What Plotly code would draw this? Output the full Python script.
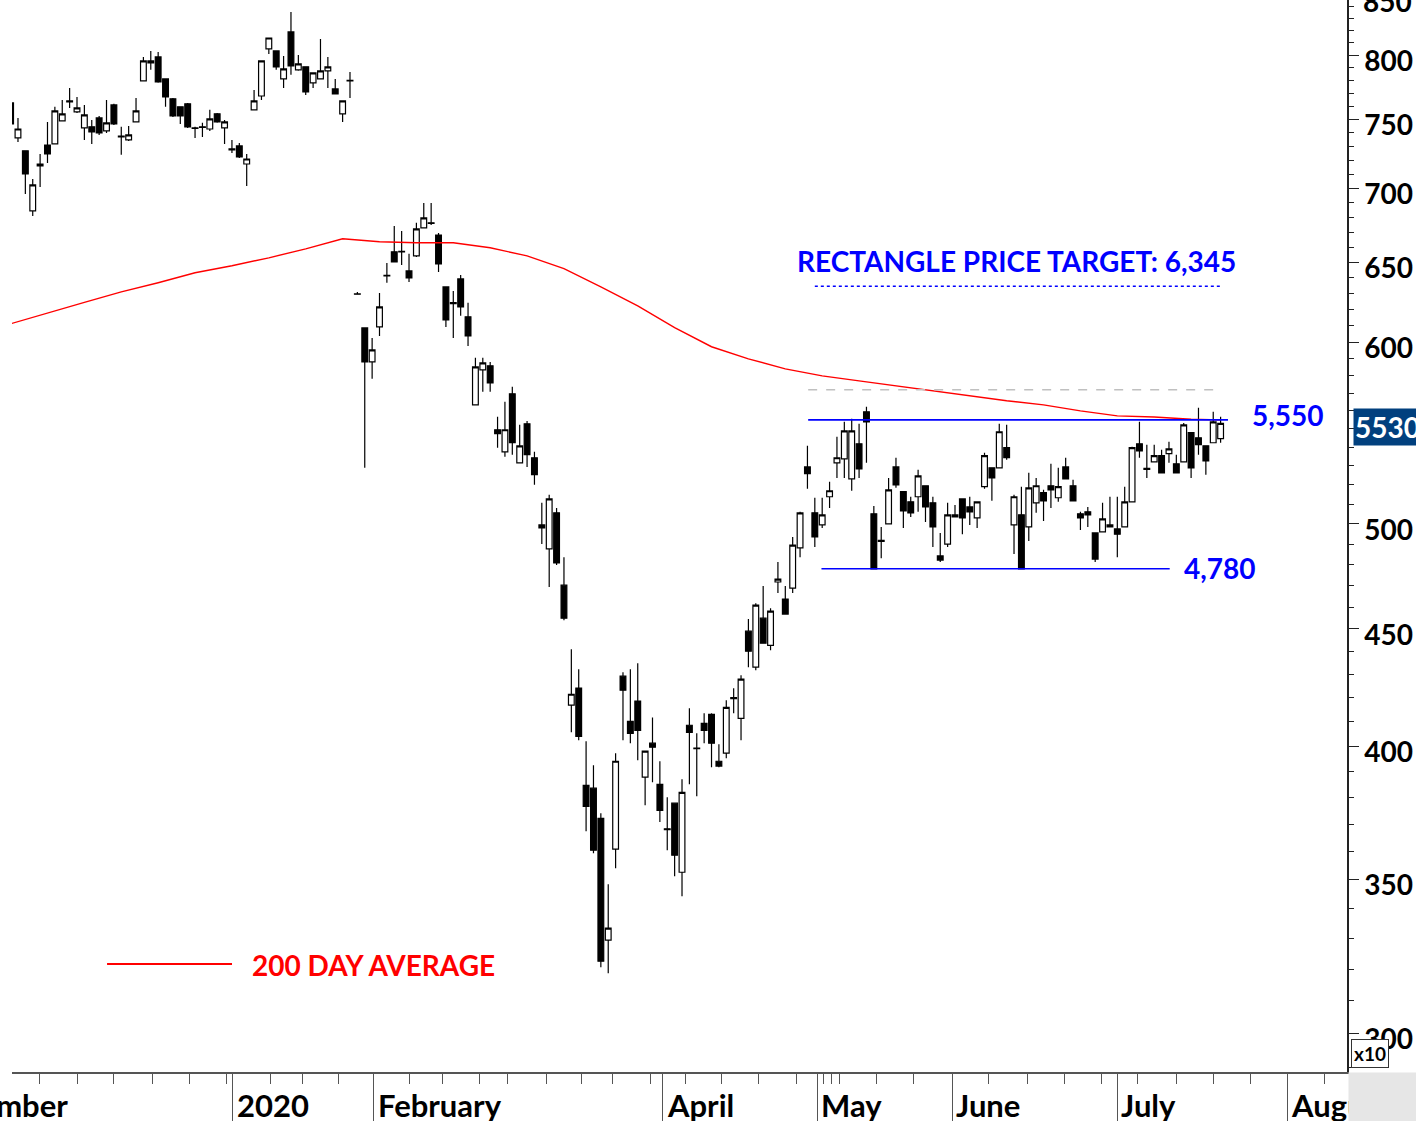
import numpy as np
import plotly.graph_objects as go

# ---------------- DATA (axis units are price / 10, as the "x10" box says) ----------------
opens = [762.6, 736.3, 726.8, 684.3, 717.3, 731.1, 731.9, 749.0, 764.1, 755.8,
         743.7, 744.5, 751.2, 741.5, 761.1, 737.7, 734.8, 748.2, 779.6, 793.8,
         798.6, 781.2, 765.7, 759.6, 761.9, 743.7, 744.5, 742.9, 754.3, 743.7,
         728.2, 730.4, 717.3, 757.3, 767.9, 805.0, 803.4, 781.2, 818.9, 788.3,
         790.7, 778.1, 781.2, 787.5, 773.4, 754.3, 780.0, 629.7, 608.6, 588.2,
         609.2, 641.2, 656.8, 657.1, 644.4, 654.2, 672.8, 676.2, 668.0, 634.1,
         624.2, 639.2, 615.4, 563.4, 583.5, 585.9, 549.5, 537.5, 569.7, 531.6,
         552.8, 534.3, 499.5, 487.6, 505.6, 470.2, 416.9, 424.1, 384.7, 383.6,
         372.2, 329.4, 360.9, 429.2, 410.2, 418.6, 387.9, 401.3, 385.1, 368.3,
         377.9, 352.6, 408.6, 399.3, 409.4, 413.1, 394.1, 397.3, 419.6, 411.4,
         449.0, 433.1, 454.9, 442.7, 471.7, 463.7, 468.8, 488.1, 529.4, 505.6,
         499.5, 513.8, 531.6, 533.7, 523.1, 541.8, 559.5, 505.1, 491.8, 500.0,
         529.4, 516.4, 511.2, 513.8, 519.5, 510.7, 484.2, 490.0, 503.5, 512.7,
         508.6, 503.0, 519.0, 528.9, 528.9, 539.7, 499.5, 504.6, 498.5, 510.7,
         515.9, 519.5, 513.3, 529.4, 519.5, 505.1, 506.1, 495.5, 496.0, 498.5,
         497.5, 498.5, 511.2, 541.8, 528.7, 532.1, 535.4, 536.5, 531.1, 532.1,
         547.9, 545.1, 540.7, 542.4, 544.6]
highs = [762.6, 751.2, 726.8, 706.6, 724.6, 748.2, 759.6, 764.9, 774.1, 767.2,
         761.1, 749.7, 752.7, 764.9, 761.9, 744.5, 745.2, 766.4, 798.6, 803.4,
         802.6, 781.2, 766.4, 759.6, 762.6, 744.5, 747.5, 757.3, 755.0, 749.7,
         734.8, 732.6, 724.6, 772.6, 795.4, 813.9, 803.4, 799.4, 835.4, 800.2,
         790.7, 785.9, 813.1, 798.6, 781.2, 764.1, 786.7, 630.9, 608.6, 602.5,
         630.3, 649.5, 674.1, 670.7, 655.5, 676.2, 689.8, 689.8, 669.4, 634.1,
         631.6, 641.8, 624.2, 590.6, 590.6, 588.2, 556.7, 565.2, 573.7, 552.2,
         554.4, 537.5, 510.7, 514.8, 508.1, 483.6, 440.9, 432.2, 402.1, 392.5,
         374.1, 348.4, 397.3, 430.9, 432.2, 434.8, 398.1, 411.8, 394.1, 380.1,
         377.9, 387.1, 415.6, 405.3, 413.5, 413.5, 400.9, 419.0, 424.0, 429.6,
         454.5, 461.8, 469.8, 459.5, 481.3, 469.8, 493.5, 506.1, 540.7, 513.3,
         513.3, 521.6, 545.6, 553.9, 555.6, 552.8, 562.3, 509.1, 498.5, 523.6,
         534.3, 516.4, 513.8, 527.9, 519.5, 513.8, 495.5, 510.7, 509.6, 512.7,
         513.8, 511.2, 537.0, 528.9, 552.8, 552.2, 514.8, 519.0, 526.3, 523.6,
         517.4, 531.1, 528.9, 534.3, 522.6, 506.1, 508.6, 495.5, 510.7, 513.8,
         513.8, 519.0, 540.2, 553.9, 541.3, 541.3, 538.6, 542.9, 535.9, 553.3,
         547.9, 561.7, 540.7, 559.5, 556.7]
lows = [745.9, 733.3, 696.1, 680.9, 701.0, 718.0, 731.9, 749.0, 758.8, 755.0,
        734.8, 731.9, 738.5, 740.0, 745.9, 723.9, 734.1, 748.2, 779.6, 788.3,
        778.1, 759.6, 752.0, 746.7, 743.7, 736.3, 737.0, 741.5, 747.5, 731.9,
        725.3, 721.7, 701.7, 757.3, 764.9, 801.0, 788.3, 774.1, 784.4, 787.5,
        768.7, 774.1, 781.2, 774.1, 769.5, 748.2, 766.4, 629.4, 529.0, 578.3,
        603.7, 636.7, 650.2, 648.2, 637.3, 653.5, 672.8, 674.8, 643.7, 609.2,
        602.5, 616.0, 597.7, 563.4, 570.9, 570.9, 539.7, 534.8, 535.9, 531.6,
        529.4, 520.0, 490.0, 469.3, 479.8, 454.0, 405.7, 402.5, 367.4, 359.4,
        320.6, 318.6, 354.0, 402.5, 401.3, 394.5, 377.1, 385.9, 370.8, 360.5,
        351.2, 344.2, 385.1, 380.5, 401.3, 391.7, 391.7, 395.3, 413.5, 402.5,
        433.1, 431.8, 443.6, 440.5, 466.5, 456.8, 466.5, 483.6, 517.9, 488.6,
        498.0, 508.1, 523.6, 523.6, 516.9, 523.6, 531.6, 478.0, 483.1, 500.0,
        518.4, 498.0, 503.5, 506.1, 501.0, 488.6, 481.3, 488.6, 503.5, 494.9,
        499.5, 498.0, 517.9, 511.7, 528.9, 533.2, 485.2, 478.0, 491.5, 505.6,
        501.5, 508.1, 511.2, 523.1, 511.7, 497.0, 498.5, 481.3, 496.0, 498.5,
        483.6, 498.5, 511.2, 534.3, 523.6, 532.1, 526.3, 531.6, 526.3, 532.1,
        523.6, 535.9, 525.2, 542.4, 542.4]
closes = [746.7, 742.9, 710.2, 702.4, 715.9, 724.6, 756.5, 754.3, 763.4, 758.8,
          753.5, 740.7, 740.0, 747.5, 746.7, 737.0, 738.5, 756.5, 795.4, 795.4,
          778.8, 767.2, 752.7, 752.7, 744.5, 743.3, 744.1, 750.5, 748.2, 748.2,
          727.5, 722.4, 720.9, 764.1, 795.4, 813.9, 790.7, 789.1, 791.5, 793.0,
          771.1, 785.9, 787.5, 790.7, 769.5, 764.1, 779.6, 629.5, 588.2, 595.3,
          621.6, 641.5, 650.2, 656.8, 639.9, 672.1, 679.6, 675.8, 648.9, 613.5,
          623.6, 621.6, 603.7, 585.3, 587.6, 576.0, 547.3, 549.5, 542.4, 540.7,
          535.9, 525.3, 498.0, 512.7, 480.8, 454.9, 421.5, 404.1, 376.7, 360.5,
          322.5, 333.4, 394.1, 423.2, 405.3, 406.5, 398.1, 399.7, 375.2, 368.0,
          358.7, 382.0, 405.7, 399.1, 406.5, 401.3, 392.2, 416.0, 420.1, 427.9,
          440.1, 460.9, 443.6, 458.1, 473.1, 456.8, 489.5, 505.6, 525.8, 493.5,
          504.6, 516.9, 534.3, 548.9, 548.9, 528.4, 553.9, 478.0, 491.3, 517.4,
          520.0, 506.6, 505.6, 524.7, 508.6, 498.5, 482.2, 504.6, 504.6, 503.0,
          506.1, 511.2, 535.4, 523.6, 548.4, 534.3, 513.8, 478.0, 518.4, 519.5,
          511.7, 517.4, 519.0, 523.1, 511.7, 503.0, 504.6, 482.7, 502.5, 499.5,
          494.9, 511.2, 539.7, 538.0, 528.1, 535.4, 526.3, 539.1, 526.3, 552.2,
          528.9, 541.3, 532.6, 553.9, 553.0]

# 200-day average, read at every 5th bar
ma_bar = [0, 5, 10, 15, 20, 25, 30, 35, 40, 45, 50, 55, 60, 65, 70, 75, 80,
          85, 90, 95, 100, 105, 110, 115, 120, 125, 130, 135, 140, 145, 150,
          155, 160, 164]
ma_vals = [611.1, 617.9, 624.4, 631.0, 636.8, 643.2, 647.7, 652.9, 658.8,
           665.5, 663.5, 662.8, 662.8, 659.5, 654.2, 645.8, 634.2, 622.2,
           608.7, 597.2, 590.0, 584.1, 580.0, 577.1, 574.3, 571.4, 568.5,
           565.7, 563.4, 560.0, 557.2, 556.6, 555.3, 555.0]

# price levels (real units)
resistance = 5550
support = 4780
target = 6345
grey_level = 5720
unit = 10

month_labels = ["December", "2020", "February", "April", "May", "June", "July", "August"]
month_pos = [-11.9, 30.14, 49.25, 88.42, 109.3, 127.6, 149.96, 173.0]
week_pos = [3.85, 9.0, 14.0, 19.2, 24.3, 29.2, 35.2, 39.5, 44.5, 54.1, 58.5,
            63.5, 67.3, 72.6, 77.4, 81.6, 86.7, 91.5, 96.3, 101.3, 106.5,
            110.2, 111.2, 112.4, 117.4, 122.4, 132.6, 137.8, 142.8, 147.8,
            152.8, 158.0, 163.0, 168.0, 178.1]

y_ticks = [300, 350, 400, 450, 500, 550, 600, 650, 700, 750, 800, 850]
y_minor = [v for v in range(290, 850, 10) if v % 50]

# ---------------- FIGURE ----------------
FONT = "Lato"
BLUE = "#0000ff"
RED = "#ff0000"
x_range = [0.19, 181.13]
y_lo, y_hi = 288.6, 845.5

bars = np.arange(len(closes))

fig = go.Figure()
fig.add_trace(go.Candlestick(
    x=bars, open=opens, high=highs, low=lows, close=closes,
    increasing=dict(line=dict(color="black", width=1.2), fillcolor="white"),
    decreasing=dict(line=dict(color="black", width=1.2), fillcolor="black"),
    whiskerwidth=0, showlegend=False, hoverinfo="skip"))

fig.add_trace(go.Scatter(x=ma_bar, y=ma_vals, mode="lines",
                         line=dict(color=RED, width=1.4), showlegend=False, hoverinfo="skip"))

def level(x0, x1, val, color, dash, width):
    fig.add_trace(go.Scatter(x=[x0, x1], y=[val / unit, val / unit], mode="lines",
                             line=dict(color=color, dash=dash, width=width),
                             showlegend=False, hoverinfo="skip"))

level(108.1, 163.2, grey_level, "#c0c0c0", "dash", 1.5)
level(109.0, 164.2, target, BLUE, "dot", 1.5)
level(108.1, 165.0, resistance, BLUE, "solid", 1.6)
level(109.9, 157.1, support, BLUE, "solid", 1.6)

def xpaper(v):
    return (v - x_range[0]) / (x_range[1] - x_range[0])

bold = dict(family=FONT, size=28, color="black", weight=700)
month_font = dict(family=FONT, size=31, color="black", weight=700)
ann = []
for pos, lab in zip(month_pos, month_labels):
    if x_range[0] <= pos <= x_range[1]:
        ann.append(dict(x=pos, xref="x", y=-0.031, yref="paper", text=lab,
                        xanchor="left", yanchor="middle", xshift=2, showarrow=False,
                        font=month_font))
    else:
        ann.append(dict(x=xpaper(pos), xref="paper", y=-0.031, yref="paper", text=lab,
                        xanchor="left", yanchor="middle", showarrow=False, font=month_font))

# grey corner below the price scale
ann.append(dict(x=1, xref="paper", y=0, yref="paper", text=" ", xanchor="left", yanchor="top",
                xshift=1, width=72, height=52, borderpad=0, bgcolor="#e6e6e6", showarrow=False))

# 200 DAY AVERAGE legend
ann.append(dict(x=0.1783, xref="paper", y=0.1000, yref="paper", text="200 DAY AVERAGE",
                xanchor="left", yanchor="middle", showarrow=False,
                font=dict(family=FONT, size=28, color=RED, weight=700)))

blue_font = dict(family=FONT, size=28, color=BLUE, weight=700)
ann.append(dict(x=136.4, xref="x", y=np.log10(target / unit), yref="y",
                text=f"RECTANGLE PRICE TARGET: {target:,}", xanchor="center", yanchor="middle",
                yshift=25, showarrow=False, font=blue_font))
ann.append(dict(x=168.0, xref="x", y=np.log10(resistance / unit), yref="y",
                text=f"{resistance:,}", xanchor="left", yanchor="middle", yshift=5,
                showarrow=False, font=blue_font))
ann.append(dict(x=158.8, xref="x", y=np.log10(support / unit), yref="y",
                text=f"{support:,}", xanchor="left", yanchor="middle", yshift=1,
                showarrow=False, font=blue_font))

# tick labels above the visible range (cut by the page top)
for v in y_ticks:
    if v > y_hi:
        ann.append(dict(x=1.0105, xref="paper", y=1.0, yref="paper", text=str(v),
                        xanchor="left", yanchor="middle", yshift=-1, showarrow=False, font=bold))

# last-price box
ann.append(dict(x=1.0045, xref="paper", y=np.log10(closes[-1]), yref="y",
                text=f"{closes[-1] * unit:.0f}", xanchor="left", yanchor="middle",
                showarrow=False, bgcolor="#01407e", borderpad=1, height=34, valign="middle",
                yshift=-4,
                font=dict(family=FONT, size=28, color="white", weight=700)))
# x10 multiplier box
ann.append(dict(x=1.0172, xref="paper", y=0.0177, yref="paper", text=f"x{unit}",
                xanchor="center", yanchor="middle", showarrow=False, bgcolor="white",
                bordercolor="#333333", borderwidth=1, borderpad=2,
                font=dict(family=FONT, size=19, color="black", weight=700)))

shapes = [dict(type="line", xref="paper", yref="paper", x0=0.0712, x1=0.1648,
               y0=0.1007, y1=0.1007, line=dict(color=RED, width=2))]

fig.update_layout(
    width=1416, height=1121,
    margin=dict(l=12, r=69, t=0, b=49),
    paper_bgcolor="white", plot_bgcolor="white",
    font=dict(family=FONT),
    boxgap=0.22, boxgroupgap=0,
    annotations=ann, shapes=shapes,
    showlegend=False,
    xaxis=dict(range=x_range, showgrid=False, zeroline=False, rangeslider=dict(visible=False),
               showline=True, linecolor="#555555", linewidth=1.5,
               tickmode="array", tickvals=[p for p in month_pos if x_range[0] <= p <= x_range[1]],
               ticks="outside", ticklen=49, tickwidth=1, tickcolor="#555555",
               showticklabels=False,
               minor=dict(tickmode="array", tickvals=week_pos, ticks="outside",
                          ticklen=10, tickwidth=1, tickcolor="#555555")),
    yaxis=dict(type="log", range=[np.log10(y_lo), np.log10(y_hi)], side="right",
               showgrid=False, zeroline=False, showline=True, linecolor="#222222", linewidth=1.5,
               tickmode="array", tickvals=y_ticks, ticktext=[str(v) for v in y_ticks],
               ticks="outside", ticklen=10, tickwidth=1, tickcolor="#222222",
               tickfont=bold, ticklabelshift=6,
               minor=dict(tickmode="array", tickvals=y_minor, ticks="outside",
                          ticklen=5, tickwidth=1, tickcolor="#222222")),
)

fig.write_html("out.html", config={"displayModeBar": False},
               post_script="document.body.style.margin='0';document.body.style.overflow='hidden';")
